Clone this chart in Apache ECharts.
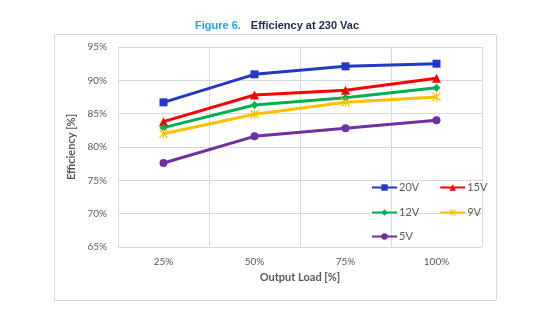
<!DOCTYPE html>
<html><head><meta charset="utf-8">
<script src="https://cdn.jsdelivr.net/npm/echarts@6/dist/echarts.min.js"></script>
<style>html,body{margin:0;padding:0;background:#fff}#c{width:554px;height:329px}</style>
</head><body><div id="c"></div>
<script>
const categories = ['25%', '50%', '75%', '100%'];
const v20 = [86.7, 90.9, 92.1, 92.5];
const v15 = [83.8, 87.8, 88.5, 90.3];
const v12 = [82.9, 86.3, 87.4, 88.9];
const v9  = [82.0, 84.9, 86.7, 87.5];
const v5  = [77.6, 81.6, 82.8, 84.0];
const seriesNames = ['20V', '15V', '12V', '9V', '5V'];

const starPath = 'path://M0,1 L1,0 L5,4 L9,0 L10,1 L6,5 L10,9 L9,10 L5,6 L1,10 L0,9 L4,5 Z M4.4,0 L5.6,0 L5.6,10 L4.4,10 Z';
const cfg = [
  {name:seriesNames[0], data:v20, color:'#2338c8', symbol:'rect', size:8},
  {name:seriesNames[1], data:v15, color:'#ff0000', symbol:'triangle', size:9},
  {name:seriesNames[2], data:v12, color:'#00b050', symbol:'diamond', size:8},
  {name:seriesNames[3], data:v9,  color:'#ffc000', symbol:starPath, size:9},
  {name:seriesNames[4], data:v5,  color:'#7030a0', symbol:'circle', size:8}
];
const font = 'Lato, "Open Sans", sans-serif';
const chart = echarts.init(document.getElementById('c'));
const legendBase = {orient:'horizontal', itemWidth:25, itemHeight:8, itemGap:20,
  textStyle:{color:'#595959', fontSize:11, fontFamily:font, padding:[0,0,0,-3]}};
chart.setOption({
  animation:false,
  title:{
    text:'{a|Figure 6.}  {b|Efficiency at 230 Vac}',
    left:'center', top:12,
    textStyle:{rich:{
      a:{color:'#29a3dd', fontWeight:'bold', fontSize:11, fontFamily:'"Liberation Sans", Arial, sans-serif'},
      b:{color:'#1a2b4c', fontWeight:'bold', fontSize:11, fontFamily:'"Liberation Sans", Arial, sans-serif'}
    }}
  },
  graphic:[{type:'rect', shape:{x:54.5, y:34.5, width:442, height:266},
    style:{fill:'none', stroke:'#d9d9d9', lineWidth:1}, z:-1}],
  legend:[
    Object.assign({}, legendBase, {data:[seriesNames[0], seriesNames[1]], left:366, top:177}),
    Object.assign({}, legendBase, {data:[seriesNames[2], seriesNames[3]], left:366, top:202}),
    Object.assign({}, legendBase, {data:[seriesNames[4]], left:366, top:226})
  ],
  grid:{left:118, right:72, top:47, bottom:82, containLabel:false},
  xAxis:{
    type:'category', data:categories, boundaryGap:true,
    name:'Output Load [%]', nameLocation:'middle', nameGap:24,
    nameTextStyle:{color:'#595959', fontWeight:'bold', fontSize:11, fontFamily:font},
    axisLine:{show:true, lineStyle:{color:'#d9d9d9'}},
    axisTick:{show:false},
    axisLabel:{color:'#595959', fontSize:10, fontFamily:font, margin:10},
    splitLine:{show:true, lineStyle:{color:'#d9d9d9'}}
  },
  yAxis:{
    type:'value', min:65, max:95, interval:5,
    name:'Efficiency [%]', nameLocation:'middle', nameGap:31,
    nameTextStyle:{color:'#595959', fontWeight:'bold', fontSize:11, fontFamily:font},
    axisLine:{show:false}, axisTick:{show:false},
    axisLabel:{color:'#595959', fontSize:10, fontFamily:font, margin:11, formatter:'{value}%'},
    splitLine:{show:true, lineStyle:{color:'#d9d9d9'}}
  },
  series: cfg.map(c => ({
    name:c.name, type:'line', data:c.data, symbol:c.symbol, symbolSize:c.size,
    showSymbol:true,
    lineStyle:{color:c.color, width:3},
    itemStyle:{color:c.color}
  }))
});
</script></body></html>
